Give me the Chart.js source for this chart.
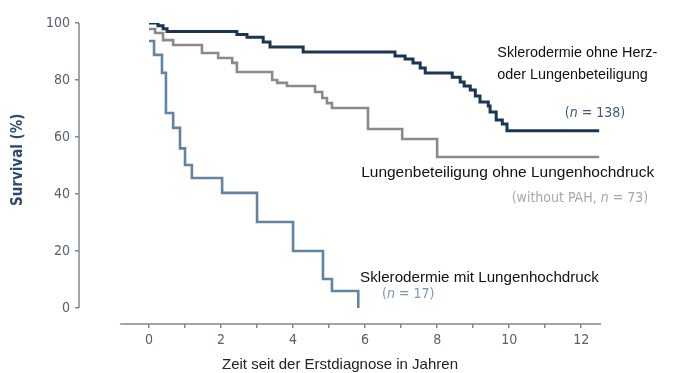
<!DOCTYPE html>
<html>
<head>
<meta charset="utf-8">
<script src="https://cdn.jsdelivr.net/npm/chart.js@4.4.1/dist/chart.umd.min.js"></script>
<style>
  html, body { margin: 0; padding: 0; background: #fff; }
  #wrap { width: 674px; height: 373px; }
</style>
</head>
<body>
<div id="wrap"><canvas id="km" width="674" height="373"></canvas></div>
<script>
// Kaplan-Meier steps (years, survival %)
const ohneTimes = [0, 0.25, 0.39, 0.5, 2.44, 2.72, 3.17, 3.36, 4.28, 6.83, 7.11, 7.33, 7.53, 7.67, 8.42, 8.64, 8.75, 8.92, 9.06, 9.19, 9.42, 9.47, 9.64, 9.81, 9.94, 12.5];
const ohneSurv  = [100, 99, 98, 97, 96, 95, 93.3, 91.6, 89.8, 88.4, 87.4, 86, 84.2, 82.5, 81, 79.3, 77.9, 76.5, 74.4, 72.3, 70.9, 68.8, 66, 64.6, 62.2, 62.2];

const lungeTimes = [0, 0.17, 0.39, 0.67, 1.47, 1.92, 2.31, 2.44, 3.42, 3.56, 3.83, 4.61, 4.81, 4.94, 5.08, 6.08, 7.03, 8.0, 12.5];
const lungeSurv  = [97.9, 96.5, 94, 92.3, 89.5, 87.7, 86, 82.8, 80, 79, 77.9, 75.8, 73.7, 71.9, 70.2, 62.8, 59.3, 53, 53];

const pahTimes = [0, 0.14, 0.36, 0.47, 0.67, 0.86, 1.0, 1.19, 2.03, 3.0, 4.0, 4.83, 5.08, 5.81];
const pahSurv  = [93.7, 88.8, 82.5, 68.4, 63.2, 56, 50.2, 45.6, 40.4, 30.2, 20, 10.2, 6, 0];

const yearTicks = [0, 1, 2, 3, 4, 5, 6, 7, 8, 9, 10, 11, 12];
const survTicks = [0, 20, 40, 60, 80, 100];

const narrow = '"Liberation Sans Narrow", "DejaVu Sans Condensed", "Arial Narrow", sans-serif';
const sans = '"Liberation Sans", Arial, sans-serif';
const axisColor = '#7d8894';

const toPoints = (xs, ys) => xs.map((x, i) => ({ x: x, y: ys[i] }));

// text notes next to the curves, placed in data units
const notes = [
  { x: 9.67, y: 89.5, align: 'left', family: sans, size: 14.4, color: '#111', parts: [['Sklerodermie ohne Herz-']] },
  { x: 9.67, y: 81.8, align: 'left', family: sans, size: 14.4, color: '#111', parts: [['oder Lungenbeteiligung']] },
  { x: 13.22, y: 68.4, align: 'right', family: narrow, size: 14, color: '#3c5a80', parts: [['('], ['n', true], [' = 138)']] },
  { x: 5.89, y: 47.4, align: 'left', family: sans, size: 15.5, color: '#111', parts: [['Lungenbeteiligung ohne Lungenhochdruck']] },
  { x: 13.86, y: 38.6, align: 'right', family: narrow, size: 14, color: '#a8a8a8', parts: [['(without PAH, '], ['n', true], [' = 73)']] },
  { x: 5.86, y: 10.5, align: 'left', family: sans, size: 15.2, color: '#111', parts: [['Sklerodermie mit Lungenhochdruck']] },
  { x: 6.47, y: 4.9, align: 'left', family: narrow, size: 14, color: '#7d97b3', parts: [['('], ['n', true], [' = 17)']] }
];

function drawParts(ctx, note, px, py) {
  const widths = note.parts.map(p => {
    ctx.font = (p[1] ? 'italic ' : '') + note.size + 'px ' + note.family;
    return ctx.measureText(p[0]).width;
  });
  const total = widths.reduce((a, b) => a + b, 0);
  let cx = note.align === 'right' ? px - total : px;
  ctx.textAlign = 'left';
  ctx.textBaseline = 'middle';
  ctx.fillStyle = note.color;
  note.parts.forEach((p, i) => {
    ctx.font = (p[1] ? 'italic ' : '') + note.size + 'px ' + note.family;
    ctx.fillText(p[0], cx, py);
    cx += widths[i];
  });
}

const axesAndNotes = {
  id: 'axesAndNotes',
  beforeDatasetsDraw(chart) {
    const { ctx, scales: { x, y }, chartArea } = chart;
    ctx.save();
    ctx.strokeStyle = axisColor;
    ctx.lineWidth = 1.5;
    // y axis line only over 0..100
    ctx.beginPath();
    ctx.moveTo(chartArea.left, y.getPixelForValue(0));
    ctx.lineTo(chartArea.left, y.getPixelForValue(100));
    ctx.stroke();
    // detached x axis line
    ctx.beginPath();
    ctx.moveTo(x.getPixelForValue(-0.8), chartArea.bottom);
    ctx.lineTo(chartArea.right, chartArea.bottom);
    ctx.stroke();
    ctx.restore();
  },
  afterDraw(chart) {
    const { ctx, scales: { x, y } } = chart;
    ctx.save();
    notes.forEach(n => drawParts(ctx, n, x.getPixelForValue(n.x), y.getPixelForValue(n.y)));
    // y title
    ctx.translate(18, y.getPixelForValue(52));
    ctx.rotate(-Math.PI / 2);
    ctx.font = 'bold 15px ' + narrow;
    ctx.fillStyle = '#2b4a70';
    ctx.textAlign = 'center';
    ctx.textBaseline = 'middle';
    ctx.fillText('Survival (%)', 0, 0);
    ctx.restore();
  }
};

new Chart(document.getElementById('km').getContext('2d'), {
  type: 'line',
  data: {
    datasets: [
      { label: 'Sklerodermie ohne Herz- oder Lungenbeteiligung', data: toPoints(ohneTimes, ohneSurv), borderColor: '#1c3553', borderWidth: 3 },
      { label: 'Lungenbeteiligung ohne Lungenhochdruck', data: toPoints(lungeTimes, lungeSurv), borderColor: '#8a8a8a', borderWidth: 2.6 },
      { label: 'Sklerodermie mit Lungenhochdruck', data: toPoints(pahTimes, pahSurv), borderColor: '#6383a3', borderWidth: 2.6 }
    ].map(d => Object.assign(d, { stepped: 'before', pointRadius: 0, fill: false, tension: 0 }))
  },
  options: {
    responsive: false,
    animation: false,
    layout: { padding: { top: 23, right: 73, left: 0, bottom: 0 } },
    plugins: { legend: { display: false }, tooltip: { enabled: false } },
    scales: {
      x: {
        type: 'linear',
        min: -1.944,
        max: 12.55,
        afterBuildTicks: s => { s.ticks = yearTicks.map(v => ({ value: v })); },
        afterFit: s => { s.height = 49; },
        border: { display: false },
        grid: { drawOnChartArea: false, tickLength: 4, color: axisColor, lineWidth: 1.5 },
        ticks: {
          callback: v => (v % 2 === 0 ? String(v) : ''),
          autoSkip: false, maxRotation: 0, padding: 4,
          color: '#58606a', font: { family: narrow, size: 14 }
        },
        title: {
          display: true, text: 'Zeit seit der Erstdiagnose in Jahren',
          color: '#222', font: { family: sans, size: 15 }, padding: { top: 0, bottom: -1 }
        }
      },
      y: {
        min: -5.6,
        max: 100,
        afterBuildTicks: s => { s.ticks = survTicks.map(v => ({ value: v })); },
        afterFit: s => { s.width = 79; },
        border: { display: false },
        grid: { drawOnChartArea: false, tickLength: 4, color: axisColor, lineWidth: 1.5 },
        ticks: { padding: 5, color: '#58606a', font: { family: narrow, size: 14 } }
      }
    }
  },
  plugins: [axesAndNotes]
});
</script>
</body>
</html>
